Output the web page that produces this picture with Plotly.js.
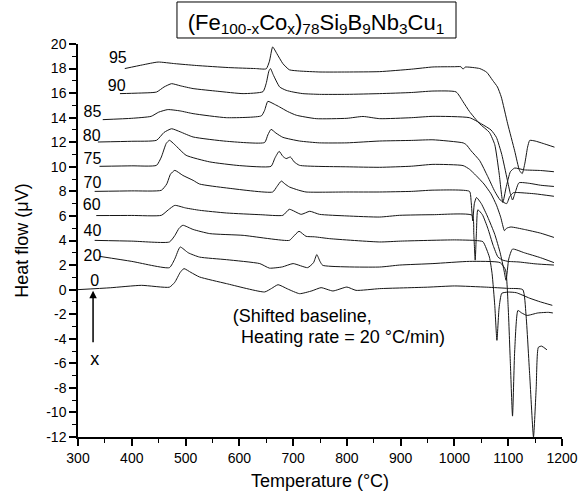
<!DOCTYPE html>
<html>
<head>
<meta charset="utf-8">
<script src="https://cdn.plot.ly/plotly-3.0.1.min.js"></script>
<style>
  html, body { margin: 0; padding: 0; background: #fff; }
  #chart { width: 578px; height: 498px; }
</style>
</head>
<body>
<div id="chart"></div>
<script>
// DSC traces of (Fe100-xCox)78Si9B9Nb3Cu1, shifted baselines, one per Co content x
const t95 = [387, 420, 449, 480, 520, 580, 630, 650, 656, 662, 670, 681, 693, 712, 750, 800, 861, 920, 960, 1000, 1012, 1016, 1020, 1047, 1060, 1071, 1080, 1087, 1099, 1112, 1121, 1126, 1131, 1136, 1140, 1150, 1165, 1186];
const h95 = [18.0, 18.3, 18.53, 18.4, 18.25, 18.08, 18.0, 17.98, 18.6, 19.76, 19.2, 18.4, 17.9, 17.8, 17.72, 17.72, 17.75, 17.95, 18.13, 18.15, 18.15, 17.95, 18.12, 18.0, 17.7, 17.04, 16.5, 15.7, 13.5, 11.3, 9.7, 9.45, 10.3, 11.6, 12.15, 12.1, 11.9, 11.6];

const t90 = [378, 410, 446, 460, 474, 490, 514, 560, 607, 644, 650, 655, 658, 663, 675, 687, 700, 718, 749, 800, 861, 920, 960, 1003, 1016, 1028, 1047, 1065, 1075, 1083, 1090, 1096, 1104, 1112, 1130, 1160, 1185];
const h90 = [15.96, 16.0, 16.09, 16.5, 16.77, 16.6, 16.37, 16.15, 15.96, 16.12, 16.8, 17.8, 18.0, 17.5, 16.5, 16.23, 16.09, 15.96, 15.9, 15.9, 15.96, 16.05, 16.17, 16.1, 15.3, 14.5, 13.5, 12.8, 11.8, 9.5, 7.1, 8.3, 9.6, 9.9, 9.75, 9.7, 9.6];

const t85 = [346, 400, 436, 450, 467, 490, 514, 576, 641, 647, 653, 665, 675, 690, 706, 743, 800, 830, 861, 920, 960, 1028, 1050, 1068, 1078, 1088, 1098, 1104, 1108, 1113, 1120, 1140, 1160, 1185];
const h85 = [13.84, 13.95, 14.11, 14.45, 14.66, 14.55, 14.33, 14.0, 14.15, 14.6, 15.33, 15.1, 14.87, 14.5, 14.2, 13.92, 13.95, 14.1, 13.92, 14.0, 14.11, 14.0, 13.5, 13.0, 12.4, 11.0, 9.0, 7.8, 7.3, 7.9, 8.7, 8.65, 8.5, 8.4];

const t80 = [337, 400, 446, 460, 474, 490, 514, 576, 647, 653, 659, 668, 681, 712, 749, 800, 861, 920, 960, 1016, 1022, 1031, 1047, 1062, 1075, 1085, 1097, 1103, 1110, 1120, 1150, 1185];
const h80 = [12.02, 12.08, 12.16, 12.8, 13.1, 12.85, 12.43, 12.08, 11.98, 12.6, 13.05, 12.75, 12.4, 12.1, 11.95, 11.95, 12.1, 12.15, 12.2, 11.95, 11.8, 11.3, 10.5, 9.2, 8.0, 7.3, 7.0, 7.6, 7.9, 7.9, 7.8, 7.6];

const t75 = [340, 400, 446, 455, 464, 470, 480, 501, 545, 600, 659, 666, 674, 681, 687, 695, 702, 712, 800, 861, 920, 960, 1016, 1028, 1040, 1055, 1068, 1078, 1086, 1093, 1097, 1105, 1130, 1160, 1185];
const h75 = [10.04, 10.08, 10.12, 10.8, 11.9, 12.16, 11.8, 10.94, 10.4, 10.1, 10.04, 10.7, 11.26, 10.85, 10.67, 10.8, 10.4, 10.12, 10.0, 9.96, 10.05, 10.2, 10.1, 9.8, 9.3, 8.6, 7.8, 6.9, 5.9, 4.8, 5.0, 5.1, 4.9, 4.6, 4.25];

const t70 = [331, 400, 455, 465, 472, 480, 495, 514, 526, 576, 662, 670, 678, 685, 693, 710, 724, 800, 861, 920, 960, 1028, 1031, 1034, 1037, 1041, 1050, 1062, 1075, 1085, 1092, 1096, 1101, 1108, 1130, 1160, 1185];
const h70 = [8.0, 8.04, 8.09, 8.6, 9.4, 9.71, 9.3, 8.9, 8.6, 8.28, 7.95, 8.4, 8.84, 8.6, 8.36, 8.1, 7.95, 7.95, 7.95, 8.0, 8.1, 8.0, 7.2, 5.6, 7.0, 7.5, 7.0, 5.9, 4.5, 3.0, 1.6, 0.76, 2.5, 3.3, 3.0, 2.6, 2.2];

const t60 = [334, 400, 455, 468, 480, 500, 526, 576, 640, 681, 693, 715, 731, 749, 800, 861, 898, 960, 1033, 1036, 1038.6, 1041, 1043.5, 1052, 1062, 1072, 1081, 1090, 1100, 1120, 1150, 1185];
const h60 = [6.03, 6.04, 6.05, 6.5, 6.86, 6.65, 6.46, 6.24, 6.1, 6.05, 6.54, 6.13, 6.38, 6.13, 6.0, 5.91, 6.05, 6.1, 6.05, 4.5, 2.4, 4.8, 6.5, 6.1, 5.0, 3.6, 2.65, 2.4, 2.3, 2.25, 2.1, 2.0];

const t40 = [331, 400, 470, 480, 488, 495, 514, 545, 607, 693, 700, 711, 724, 740, 768, 861, 900, 1000, 1040, 1053, 1065, 1070, 1075, 1079, 1083, 1088, 1100, 1115, 1140, 1160, 1182];
const h40 = [4.01, 3.95, 3.88, 4.4, 5.0, 5.24, 4.9, 4.56, 4.42, 4.01, 4.3, 4.75, 4.34, 4.3, 4.15, 3.88, 3.95, 4.05, 4.0, 3.9, 2.65, 1.3, -1.3, -4.13, -1.5, -0.3, -0.2, -0.25, -0.7, -1.0, -1.28];

const t20 = [340, 400, 470, 480, 490, 505, 526, 576, 638, 656, 680, 700, 727, 738, 744, 750, 755, 861, 898, 960, 1028, 1085, 1095, 1100, 1104, 1108, 1112, 1118, 1125, 1135, 1155, 1175, 1183];
const h20 = [2.71, 2.3, 1.79, 2.5, 3.47, 3.0, 2.65, 2.44, 2.12, 1.75, 1.85, 2.12, 1.79, 2.2, 2.85, 2.3, 1.98, 1.84, 2.0, 2.12, 2.3, 2.2, 1.6, -1.5, -6.0, -10.3, -5.0, -1.7, -1.9, -2.1, -1.9, -1.85, -1.9];

const t0 = [300, 360, 418, 470, 480, 490, 497, 510, 526, 576, 647, 660, 672, 690, 712, 735, 752, 774, 800, 817, 861, 950, 1000, 1060, 1100, 1127, 1133, 1140, 1147, 1152, 1156, 1162, 1172];
const h0 = [0, 0.15, 0.35, 0.2, 0.6, 1.4, 1.71, 1.4, 1.03, 0.49, -0.19, 0.1, 0.4, 0.05, -0.33, -0.1, 0.16, -0.11, 0.21, -0.06, 0.08, 0.2, 0.3, 0.2, 0.1, 0.0, -2.0, -7.0, -12.0, -8.0, -4.7, -4.6, -4.9];

const coContent = ['95', '90', '85', '80', '75', '70', '60', '40', '20', '0'];
const temps = [t95, t90, t85, t80, t75, t70, t60, t40, t20, t0];
const flows = [h95, h90, h85, h80, h75, h70, h60, h40, h20, h0];

// y tick values with plain hyphen minus signs
const yTickVals = [-12, -10, -8, -6, -4, -2, 0, 2, 4, 6, 8, 10, 12, 14, 16, 18, 20];
const yTickText = ['-12', '-10', '-8', '-6', '-4', '-2', '0', '2', '4', '6', '8', '10', '12', '14', '16', '18', '20'];

const noteLines = ['(Shifted baseline,', ' Heating rate = 20 °C/min)'];

// where the curve labels and the note sit (temperature, heat flow)
const labelX = [374, 372, 327, 325.5, 327, 327, 325.5, 327, 327, 331];
const labelY = [18.75, 16.5, 14.4, 12.44, 10.53, 8.57, 6.78, 4.66, 2.63, 0.59];
const noteX = [587.7, 594];
const noteY = [-2.26, -3.98];

const FONT = 'Liberation Sans, Arial, Helvetica, sans-serif';

const traces = coContent.map((x, i) => ({
  x: temps[i],
  y: flows[i],
  name: 'x = ' + x,
  type: 'scatter',
  mode: 'lines',
  line: { color: '#151515', width: 1, shape: 'spline', smoothing: 0.5 },
  hoverinfo: 'skip'
}));

// Co content next to each curve
traces.push({
  x: labelX, y: labelY, text: coContent,
  type: 'scatter', mode: 'text', textposition: 'middle center',
  textfont: { family: FONT, size: 16, color: '#000' },
  hoverinfo: 'skip', cliponaxis: false
});

// measurement note and the x marker
traces.push({
  x: noteX.concat([331]), y: noteY.concat([-5.76]), text: noteLines.concat(['x']),
  type: 'scatter', mode: 'text', textposition: 'middle right',
  textfont: { family: FONT, size: 18, color: '#000' },
  hoverinfo: 'skip', cliponaxis: false
});
traces[traces.length - 1].textposition = ['middle right', 'middle right', 'middle center'];

const layout = {
  width: 578, height: 498,
  margin: { l: 78, r: 16, t: 44, b: 61 },
  paper_bgcolor: '#fff', plot_bgcolor: '#fff',
  showlegend: false,
  font: { family: FONT, size: 14, color: '#000' },
  title: {
    text: '(Fe<sub>100-x</sub>Co<sub>x</sub>)<sub>78</sub>Si<sub>9</sub>B<sub>9</sub>Nb<sub>3</sub>Cu<sub>1</sub>',
    font: { family: FONT, size: 22, color: '#000' },
    x: 0.4917, xref: 'paper', xanchor: 'center',
    y: 1.058, yref: 'paper', yanchor: 'middle'
  },
  shapes: [{
    type: 'rect', xref: 'paper', yref: 'paper',
    x0: 0.2045, x1: 0.7810, y0: 1.0153, y1: 1.1069,
    line: { color: '#000', width: 1 }, layer: 'below'
  }],
  annotations: [{
    // arrow showing the direction of increasing x
    x: 328, y: -0.1, xref: 'x', yref: 'y',
    ax: 328, ay: -4.4, axref: 'x', ayref: 'y',
    text: '', showarrow: true, arrowhead: 2, arrowsize: 1, arrowwidth: 1.5, arrowcolor: '#000'
  }],
  xaxis: {
    range: [300, 1200], tick0: 300, dtick: 100,
    showgrid: false, zeroline: false,
    showline: true, linecolor: '#000', linewidth: 1.5,
    ticks: 'outside', ticklen: 7, tickwidth: 1.5, tickcolor: '#000',
    minor: { dtick: 50, ticks: 'outside', ticklen: 4, tickwidth: 1, tickcolor: '#000', showgrid: false },
    tickfont: { family: FONT, size: 14 },
    title: { text: 'Temperature (°C)', font: { family: FONT, size: 18 }, standoff: 10 }
  },
  yaxis: {
    range: [-12, 20], tickmode: 'array', tickvals: yTickVals, ticktext: yTickText,
    showgrid: false, zeroline: false,
    showline: true, linecolor: '#000', linewidth: 1.5,
    ticks: 'outside', ticklen: 7, tickwidth: 1.5, tickcolor: '#000',
    minor: { dtick: 1, ticks: 'outside', ticklen: 4, tickwidth: 1, tickcolor: '#000', showgrid: false },
    tickfont: { family: FONT, size: 14 },
    title: { text: 'Heat flow (μV)', font: { family: FONT, size: 18 }, standoff: 13 }
  }
};

Plotly.newPlot('chart', traces, layout, { displayModeBar: false });
</script>
</body>
</html>
